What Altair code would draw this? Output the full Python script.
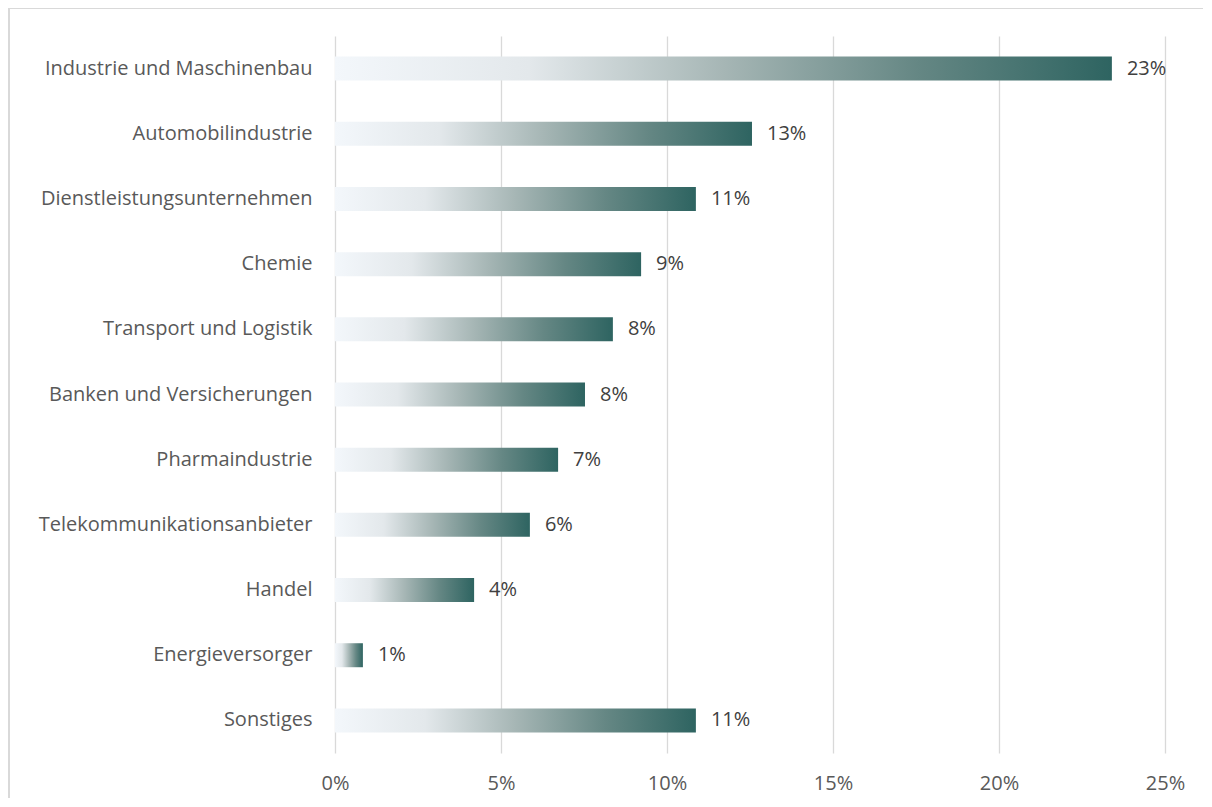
import altair as alt
import pandas as pd

categories = [
    "Industrie und Maschinenbau",
    "Automobilindustrie",
    "Dienstleistungsunternehmen",
    "Chemie",
    "Transport und Logistik ",
    "Banken und Versicherungen",
    "Pharmaindustrie",
    "Telekommunikationsanbieter",
    "Handel",
    "Energieversorger",
    "Sonstiges",
]
values = [0.234, 0.1256, 0.1087, 0.0922, 0.0837, 0.0753, 0.0672, 0.0587, 0.0419, 0.0084, 0.1087]
value_labels = ["23%", "13%", "11%", "9%", "8%", "8%", "7%", "6%", "4%", "1%", "11%"]

df = pd.DataFrame({"cat": categories, "val": values, "lbl": value_labels})

FONT = "Open Sans"
FS = 20

grad = alt.Gradient(
    gradient="linear",
    stops=[
        alt.GradientStop(color="#F3F7FB", offset=0),
        alt.GradientStop(color="#E3E8EB", offset=0.25),
        alt.GradientStop(color="#A6B6B5", offset=0.5),
        alt.GradientStop(color="#658784", offset=0.75),
        alt.GradientStop(color="#2E6461", offset=1),
    ],
    x1=0, x2=1, y1=0, y2=0,
)

y_enc = alt.Y(
    "cat:N",
    sort=categories,
    title=None,
    scale=alt.Scale(paddingInner=0.632, paddingOuter=0.316),
    axis=alt.Axis(ticks=False, domain=False, labelFontSize=FS, labelColor="#595959",
                  labelFont=FONT, labelPadding=23, labelLimit=400),
)
x_enc = alt.X(
    "val:Q",
    title=None,
    scale=alt.Scale(domain=[0, 0.25], nice=False),
    axis=alt.Axis(format=".0%", values=[0, 0.05, 0.1, 0.15, 0.2, 0.25], ticks=False, domain=False,
                  grid=True, gridColor="#d9d9d9", gridWidth=1.3, labelFontSize=FS,
                  labelColor="#595959", labelFont=FONT, labelPadding=20, labelFlush=False),
)

bars = alt.Chart(df).mark_bar(fill=grad, size=24).encode(x=x_enc, y=y_enc)
texts = alt.Chart(df).mark_text(align="left", baseline="middle", dx=15, fontSize=FS,
                                 font=FONT, color="#404040").encode(
    x="val:Q", y=alt.Y("cat:N", sort=categories), text="lbl:N")

border = alt.Chart(pd.DataFrame({"a": [0]})).mark_rect(
    fill=None, stroke="#d9d9d9", strokeWidth=2
).encode(x=alt.value(-326), x2=alt.value(890), y=alt.value(-28), y2=alt.value(790))

chart = alt.layer(border, bars, texts).properties(
    width=830, height=717,
    background="white",
    autosize=alt.AutoSizeParams(type="none"),
    padding={"left": 327, "top": 28, "right": 38, "bottom": 45},
).configure_view(stroke=None)

chart.save("out.html", embed_options={"renderer": "svg", "actions": False})
